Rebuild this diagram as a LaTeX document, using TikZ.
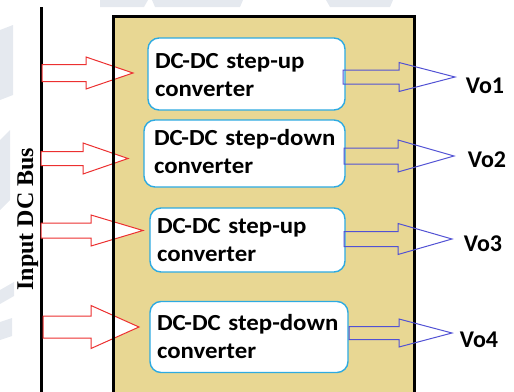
\documentclass[tikz,border=0pt]{standalone}
\usepackage{fontspec}
\setmainfont{Liberation Serif}
\newfontfamily\carlito{Carlito}
\newfontfamily\carlitowide[FakeStretch=1.08]{Carlito}
\definecolor{boxtan}{RGB}{232,215,147}
\definecolor{inred}{RGB}{236,48,48}
\definecolor{outblue}{RGB}{82,82,212}
\definecolor{convblue}{RGB}{45,170,225}
\definecolor{wmark}{RGB}{229,233,239}
% #1 style, #2 x start, #3 x head base, #4 x tip, #5 y centre, #6 shaft half-height, #7 head half-height
\newcommand{\blockarr}[7]{%
  \draw[#1] (#2,#5-#6) -- (#3,#5-#6) -- (#3,#5-#7) -- (#4,#5) -- (#3,#5+#7) -- (#3,#5+#6) -- (#2,#5+#6) -- cycle;}
\newcommand{\tallstrut}[1]{\rule{0pt}{#1pt}}
\newcommand{\deepstrut}[1]{\rule[-#1pt]{0pt}{#1pt}}
\tikzset{
  conv/.style={draw=convblue, line width=1.4pt, fill=white, rounded corners=11pt,
    align=left, inner xsep=7pt, inner ysep=0pt,
    font=\carlitowide\bfseries\fontsize{23}{28}\selectfont},
  vlabel/.style={font=\carlito\bfseries\fontsize{24}{28}\selectfont, inner sep=0pt},
  inarr/.style={draw=inred, line width=1pt, fill=white},
  outarr/.style={draw=outblue, line width=1pt},
  wm/.style={fill=wmark, draw=none}
}
\begin{document}
\begin{tikzpicture}[x=1pt,y=-1pt]
\useasboundingbox (0,0) rectangle (514,391);
\clip (0,0) rectangle (514,391);
% faint background watermark
\fill[wm] (100,0) -- (148,0) -- (144,7) -- (100,7) -- cycle;
\fill[wm] (152,0) -- (243,0) -- (240,7) -- (155,7) -- cycle;
\fill[wm] (326,0) -- (393,0) -- (390,7) -- (330,7) -- cycle;
\fill[wm] (0,30) -- (13,25) -- (13,95) -- (0,100) -- cycle;
\fill[wm] (0,140) -- (10,130) -- (10,200) -- (0,210) -- cycle;
\fill[wm] (0,290) -- (14,282) -- (14,296) -- (0,304) -- cycle;
\fill[wm] (0,322) -- (12,318) -- (12,336) -- (0,340) -- cycle;
% system box fill
\fill[boxtan] (113,16) rectangle (414,400);
% input bus
\coordinate (busTop) at (41,7);
\coordinate (busBot) at (41,400);
\draw[line width=3pt] (busTop) -- (busBot);
% input arrows
\blockarr{inarr}{42}{86}{133}{73}{8.5}{16}
\blockarr{inarr}{41}{83}{128}{158.5}{7}{15.5}
\blockarr{inarr}{41}{91}{143}{230.5}{7.5}{15.5}
\blockarr{inarr}{43}{91}{139}{327}{11}{21.5}
% system box border
\draw[line width=3pt] (113,400) -- (113,16) -- (414,16) -- (414,400);
% converters
\node[conv, minimum width=197pt, minimum height=72pt, text width=183pt] (c1) at (246.5,74) {\tallstrut{18}\mbox{DC-DC step-up}\\converter};
\node[conv, minimum width=201pt, minimum height=67pt, text width=181pt, inner xsep=10pt] (c2) at (244.5,153.5) {\mbox{DC-DC step-down}\\converter\deepstrut{3.5}};
\node[conv, minimum width=195pt, minimum height=64pt, text width=181pt] (c3) at (247.5,240) {\mbox{DC-DC step-up}\\converter};
\node[conv, minimum width=198pt, minimum height=71pt, text width=184pt] (c4) at (249,337) {\mbox{DC-DC step-down}\\converter};
% output arrows
\blockarr{outarr}{343}{399}{455}{77}{7}{14.5}
\blockarr{outarr}{344}{398}{454}{156}{8}{16}
\blockarr{outarr}{344}{398}{452}{239}{7.5}{15.5}
\blockarr{outarr}{349}{399}{452}{333}{6.5}{14}
% output labels
\node[vlabel] (v1) at (485,86) {Vo1};
\node[vlabel] (v2) at (487,160) {Vo2};
\node[vlabel] (v3) at (483,244) {Vo3};
\node[vlabel] (v4) at (479,340) {Vo4};
% bus label
\node[rotate=90, anchor=base, inner sep=0pt, font=\bfseries\fontsize{24}{26}\selectfont] (bus) at (33,219) {Input DC Bus};
\end{tikzpicture}
\end{document}
